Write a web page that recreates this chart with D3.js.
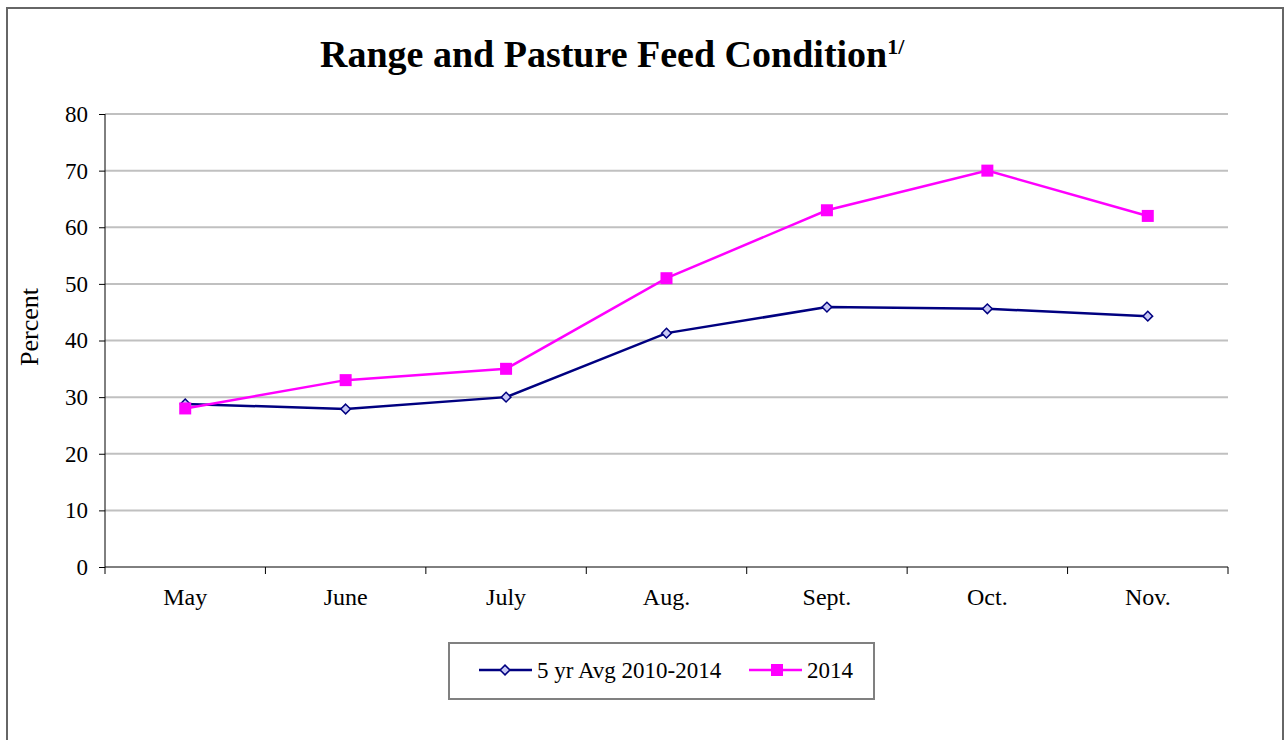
<!DOCTYPE html>
<html>
<head>
<meta charset="utf-8">
<script src="https://cdn.jsdelivr.net/npm/d3@7"></script>
<style>
  body{margin:0;background:#fff;}
  text{font-family:"Liberation Serif","Times New Roman",serif;fill:#000;}
</style>
</head>
<body>
<div class="chart"></div>
<script>
// data
const months = ['May','June','July','Aug.','Sept.','Oct.','Nov.'];
const avg5yr = [28.8, 27.9, 30.0, 41.3, 45.9, 45.6, 44.3];
const y2014 = [28, 33, 35, 51, 63, 70, 62];
const yTicks = [0,10,20,30,40,50,60,70,80];

const svg_width = 1284, svg_height = 740;
const margin = {top:114, right:56, bottom:173, left:105};
const chart_width = svg_width - margin.left - margin.right;
const chart_height = svg_height - margin.top - margin.bottom;

const svg = d3.select('.chart').append('svg')
  .attr('width', svg_width).attr('height', svg_height);

// outer frame
svg.append('rect').attr('x',7).attr('y',8).attr('width',1276).attr('height',740)
  .attr('fill','none').attr('stroke','#666').attr('stroke-width',2);

// title
const title = svg.append('text').attr('x',320).attr('y',67)
  .style('font-weight','bold').style('font-size','38px');
title.append('tspan').text('Range and Pasture Feed Condition');
title.append('tspan').text('1/').attr('dy','-13').style('font-size','22px');

const g = svg.append('g').attr('transform',`translate(${margin.left},${margin.top})`);

const xScale = d3.scaleBand().domain(months).range([0, chart_width]);
const yScale = d3.scaleLinear().domain([0,80]).range([chart_height, 0]);

// grid
g.append('g').selectAll('line').data(yTicks.filter(d=>d>0)).join('line')
  .attr('x1',0).attr('x2',chart_width)
  .attr('y1',d=>yScale(d)).attr('y2',d=>yScale(d))
  .attr('stroke','#c0c0c0').attr('stroke-width',2);

// y axis
const yAxis = d3.axisLeft(yScale).tickValues(yTicks).tickSize(6).tickPadding(11);
const yAxisDraw = g.append('g').call(yAxis);
yAxisDraw.selectAll('text').style('font-size','23px');
yAxisDraw.select('.domain').attr('d',`M0,0V${chart_height}`).attr('stroke','#000');

// x axis, ticks at band edges
const xAxisDraw = g.append('g').attr('transform',`translate(0,${chart_height})`)
  .call(d3.axisBottom(xScale).tickSize(0));
xAxisDraw.selectAll('text').style('font-size','24px').attr('y',38).attr('dy',0);
xAxisDraw.select('.domain').attr('d',`M0,0H${chart_width}`).attr('stroke','#000');
const edges = months.map(m=>xScale(m)).concat([chart_width]);
xAxisDraw.selectAll('.edge').data(edges).join('line').attr('class','edge')
  .attr('x1',d=>d).attr('x2',d=>d).attr('y1',0).attr('y2',7)
  .attr('stroke','#000');

// y label
svg.append('text').attr('transform','translate(38,327) rotate(-90)')
  .attr('text-anchor','middle').style('font-size','26px').text('Percent');

const xc = m => xScale(m) + xScale.bandwidth()/2;
const line = d3.line().x((d,i)=>xc(months[i])).y(d=>yScale(d));

const navy = '#000080', magenta = '#ff00ff';
const diamond = d3.symbol().type(d3.symbolDiamond2).size(60);

g.append('path').datum(avg5yr).attr('d',line)
  .attr('fill','none').attr('stroke',navy).attr('stroke-width',2.5);
g.append('path').datum(y2014).attr('d',line)
  .attr('fill','none').attr('stroke',magenta).attr('stroke-width',2.5);

g.selectAll('.avgpt').data(avg5yr).join('path').attr('class','avgpt')
  .attr('transform',(d,i)=>`translate(${xc(months[i])},${yScale(d)})`)
  .attr('d',diamond).attr('fill','#c8c8f4').attr('stroke',navy).attr('stroke-width',1.5);
g.selectAll('.pt14').data(y2014).join('rect').attr('class','pt14')
  .attr('x',(d,i)=>xc(months[i])-6).attr('y',d=>yScale(d)-6)
  .attr('width',12).attr('height',12).attr('fill',magenta);

// legend
const lg = svg.append('g').attr('transform','translate(449,643)');
lg.append('rect').attr('width',425).attr('height',56)
  .attr('fill','#fff').attr('stroke','#808080').attr('stroke-width',2);
lg.append('line').attr('x1',30).attr('x2',83).attr('y1',27).attr('y2',27)
  .attr('stroke',navy).attr('stroke-width',2.5);
lg.append('path').attr('transform','translate(56,27)').attr('d',diamond)
  .attr('fill','#c8c8f4').attr('stroke',navy).attr('stroke-width',1.5);
lg.append('text').attr('x',88).attr('y',35).style('font-size','23px').text('5 yr Avg 2010-2014');
lg.append('line').attr('x1',300).attr('x2',353).attr('y1',27).attr('y2',27)
  .attr('stroke',magenta).attr('stroke-width',2.5);
lg.append('rect').attr('x',322).attr('y',21).attr('width',12).attr('height',12).attr('fill',magenta);
lg.append('text').attr('x',358).attr('y',35).style('font-size','23px').text('2014');
</script>
</body>
</html>
